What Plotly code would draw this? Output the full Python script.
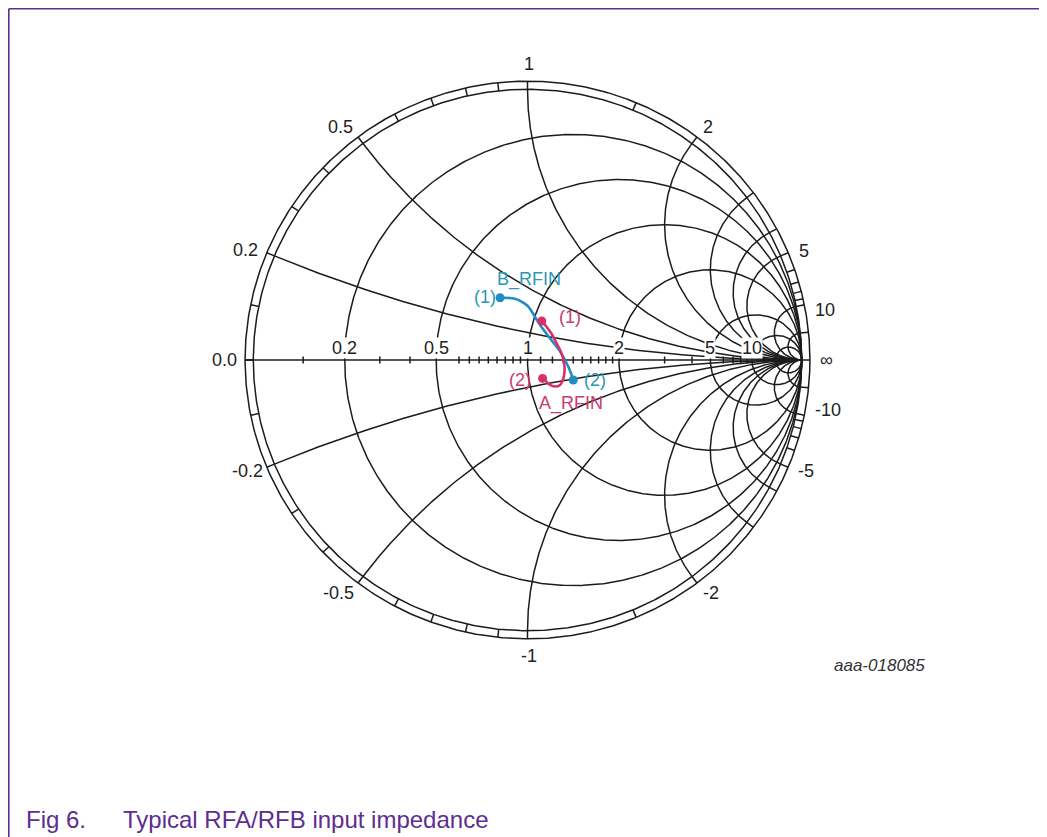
import numpy as np
import plotly.graph_objects as go

# ---------------- data (reflection coefficient) ----------------
b_rfin_re = [-0.100, -0.064, -0.039, -0.016, 0.003, 0.027, 0.046, 0.082, 0.119, 0.149, 0.167]
b_rfin_im = [0.230, 0.229, 0.224, 0.212, 0.197, 0.160, 0.129, 0.080, 0.031, -0.025, -0.074]
a_rfin_re = [0.052, 0.067, 0.086, 0.104, 0.122, 0.133, 0.135, 0.129, 0.119, 0.100, 0.082, 0.067, 0.055]
a_rfin_im = [0.144, 0.126, 0.100, 0.066, 0.030, -0.007, -0.044, -0.074, -0.092, -0.098, -0.092, -0.078, -0.068]

# ---------------- grid definition ----------------
r_circles = [0.2, 0.5, 1, 2, 5, 10, 20]
x_arcs = [0.2, 0.5, 1, 2, 3, 4, 5, 10, 20]
ring_ticks = [0.1, 0.2, 0.3, 0.4, 0.5, 0.6, 0.7, 0.8, 0.9, 1.0, 1.5, 2, 3, 4, 5, 6, 7, 8, 9, 10, 20]
axis_ticks = [0.1, 0.3, 0.4, 0.6, 0.65, 0.7, 0.75, 0.8, 0.85, 0.9, 0.95,
              1.1, 1.2, 1.3, 1.4, 1.5, 1.6, 1.7, 1.8, 1.9, 3, 4, 6, 7, 8, 9]
axis_labels = ["0.2", "0.5", "1", "2", "5", "10"]
axis_label_vals = [0.2, 0.5, 1, 2, 5, 10]
ring_labels = ["0.0", "0.2", "0.5", "1", "2", "5", "10", "\u221e", "-10", "-5", "-2", "-1", "-0.5", "-0.2"]
# label centres in page pixels
ring_label_px = [(224, 360), (245, 250), (340, 127), (529, 64), (708, 127), (804, 251), (825, 310),
                 (826, 360), (828, 410), (806, 471), (711, 593), (529, 656), (338, 593), (247, 471)]

OFF = 8                      # default page body margin
W, H = 1047 - OFF, 837 - OFF  # figure size
CX, CY, RX, RY = 527.5 - OFF, 360.0 - OFF, 274.2, 270.7
RING = 1.03

BLUE = "#1f8cc2"
PINK = "#d9306b"
BLUE_T = "#2a98b6"
PINK_T = "#c93b72"
GRID = "#1c1c1c"
PURPLE = "#5e2d90"
FONT = "Liberation Sans, Arial, sans-serif"


def px(x):
    return (x - OFF) / W


def py(y):
    return 1 - (y - OFF) / H


def gamma(z):
    z = np.asarray(z, dtype=complex)
    return (z - 1) / (z + 1)


gx, gy = [], []
t = np.linspace(0, 2 * np.pi, 721)
for rad in (1.0, RING):
    gx += list(rad * np.cos(t)) + [None]
    gy += list(rad * np.sin(t)) + [None]
for r in r_circles:
    c, rad = r / (1 + r), 1 / (1 + r)
    gx += list(c + rad * np.cos(t)) + [None]
    gy += list(rad * np.sin(t)) + [None]
rr = np.concatenate([[0.0], np.logspace(-3, 5, 900)])
for xv in x_arcs:
    for s in (1, -1):
        g = gamma(rr + 1j * s * xv)
        gx += list(g.real) + [None]
        gy += list(g.imag) + [None]
gx += [-RING, RING, None]
gy += [0, 0, None]
for xv in [0.0] + ring_ticks:
    for s in (1, -1):
        g = complex(gamma(1e-9 + 1j * s * xv)) if xv != 0 else complex(-1, 0)
        gx += [g.real, RING * g.real, None]
        gy += [g.imag, RING * g.imag, None]
th = 3.5 / RY
for rv in axis_ticks:
    g = complex(gamma(rv)).real
    gx += [g, g, None]
    gy += [-th, th, None]

fig = go.Figure()
fig.add_trace(go.Scatter(x=gx, y=gy, mode="lines", line=dict(color=GRID, width=1.5),
                         hoverinfo="skip", showlegend=False))
fig.add_trace(go.Scatter(x=b_rfin_re, y=b_rfin_im, mode="lines",
                         line=dict(color=BLUE, width=2.6, shape="spline"), showlegend=False, name="B_RFIN"))
fig.add_trace(go.Scatter(x=a_rfin_re, y=a_rfin_im, mode="lines",
                         line=dict(color=PINK, width=2.6, shape="spline"), showlegend=False, name="A_RFIN"))
fig.add_trace(go.Scatter(x=[b_rfin_re[0], b_rfin_re[-1]], y=[b_rfin_im[0], b_rfin_im[-1]], mode="markers",
                         marker=dict(color=BLUE, size=9), showlegend=False))
fig.add_trace(go.Scatter(x=[a_rfin_re[0], a_rfin_re[-1]], y=[a_rfin_im[0], a_rfin_im[-1]], mode="markers",
                         marker=dict(color=PINK, size=9), showlegend=False))

ann = []
for txt, (lx, ly) in zip(ring_labels, ring_label_px):
    ann.append(dict(text=txt, x=px(lx), y=py(ly), xref="paper", yref="paper", showarrow=False,
                    xanchor="center", yanchor="middle", font=dict(family=FONT, size=18, color="#222")))
for txt, rv in zip(axis_labels, axis_label_vals):
    ann.append(dict(text=txt, x=complex(gamma(rv)).real, y=0, showarrow=False, yshift=12,
                    xanchor="center", yanchor="middle", bgcolor="white", borderpad=0,
                    font=dict(family=FONT, size=18, color="#222")))


def lab(txt, x, y, dx, dy, col):
    ann.append(dict(text=txt, x=x, y=y, showarrow=False, xshift=dx, yshift=dy, xanchor="center",
                    yanchor="middle", font=dict(family=FONT, size=18, color=col)))


lab("(1)", b_rfin_re[0], b_rfin_im[0], -15, 1, BLUE_T)
lab("B_RFIN", b_rfin_re[0], b_rfin_im[0], 29, 18, BLUE_T)
lab("(2)", b_rfin_re[-1], b_rfin_im[-1], 22, 0, BLUE_T)
lab("(1)", a_rfin_re[0], a_rfin_im[0], 28, 4, PINK_T)
lab("(2)", a_rfin_re[-1], a_rfin_im[-1], -23, -2, PINK_T)
lab("A_RFIN", a_rfin_re[-1], a_rfin_im[-1], 28, -25, PINK_T)

ann.append(dict(text="<i>aaa-018085</i>", x=px(879), y=py(665), xref="paper", yref="paper", showarrow=False,
                xanchor="center", yanchor="middle", font=dict(family=FONT, size=17, color="#333")))
ann.append(dict(text="Fig 6.", x=px(24), y=py(819), xref="paper", yref="paper", showarrow=False,
                xanchor="left", yanchor="middle", font=dict(family=FONT, size=24, color=PURPLE)))
ann.append(dict(text="Typical RFA/RFB input impedance", x=px(121), y=py(819), xref="paper", yref="paper",
                showarrow=False, xanchor="left", yanchor="middle", font=dict(family=FONT, size=24, color=PURPLE)))

shapes = [
    dict(type="line", xref="paper", yref="paper", x0=px(8.8), y0=py(8.8), x1=1, y1=py(8.8),
         line=dict(color=PURPLE, width=1.6)),
    dict(type="line", xref="paper", yref="paper", x0=px(8.8), y0=py(8.8), x1=px(8.8), y1=0,
         line=dict(color=PURPLE, width=1.6)),
]

fig.update_layout(
    width=W, height=H, margin=dict(l=0, r=0, t=0, b=0),
    paper_bgcolor="white", plot_bgcolor="white",
    xaxis=dict(range=[-CX / RX, (W - CX) / RX], visible=False, domain=[0, 1], fixedrange=True),
    yaxis=dict(range=[(CY - H) / RY, CY / RY], visible=False, domain=[0, 1], fixedrange=True),
    annotations=ann, shapes=shapes, showlegend=False,
)
fig.write_html("out.html", config={"displayModeBar": False})
